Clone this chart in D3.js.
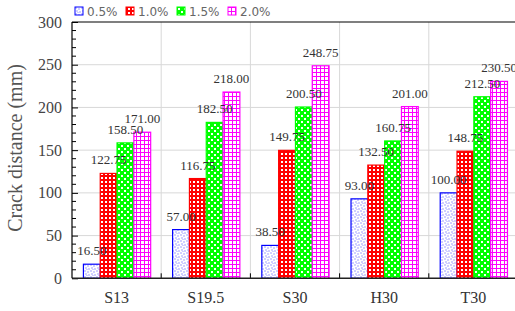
<!DOCTYPE html>
<html><head><meta charset="utf-8">
<script src="https://cdn.jsdelivr.net/npm/d3@7"></script>
<style>body{margin:0;background:#fff}svg{display:block}</style>
</head><body>
<svg id="c" width="515" height="311"></svg>
<script>
const categories = ["S13","S19.5","S30","H30","T30"];
const seriesNames = ["0.5%","1.0%","1.5%","2.0%"];
const s05 = [16.5, 57.0, 38.5, 93.0, 100.0];
const s10 = [122.75, 116.75, 149.75, 132.5, 148.75];
const s15 = [158.5, 182.5, 200.5, 160.75, 212.5];
const s20 = [171.0, 218.0, 248.75, 201.0, 230.5];
const yTicks = [0,50,100,150,200,250,300];
const seriesValues = [s05, s10, s15, s20];
const colors = ["#0000ff","#ff0000","#00ff00","#ff00ff"];

const svg = d3.select("#c");
const L = 72, T = 22, B = 278.3, R = 518;
const x = d3.scaleBand().domain(categories).range([L, R]).padding(0);
const bw = x.bandwidth();
const xs = d3.scaleBand().domain(seriesNames).range([bw*0.128, bw*0.882]).padding(0);
const y = d3.scaleLinear().domain([0,300]).range([B, T]);

// patterns
const defs = svg.append("defs");
let p = defs.append("pattern").attr("id","p0").attr("patternUnits","userSpaceOnUse").attr("width",6).attr("height",6);
p.append("rect").attr("width",6).attr("height",6).attr("fill","#fff");
[[0.5,0.5],[3.5,1.5],[1.5,3.5],[4.5,4.5],[2.5,5.5]].forEach(d=>p.append("rect").attr("x",d[0]).attr("y",d[1]).attr("width",1).attr("height",1).attr("fill","#4040ff"));
p = defs.append("pattern").attr("id","p1").attr("patternUnits","userSpaceOnUse").attr("width",4).attr("height",4);
p.append("rect").attr("width",4).attr("height",4).attr("fill","#ff0000");
p.append("rect").attr("x",1).attr("y",1).attr("width",2).attr("height",2).attr("fill","#fff");
p = defs.append("pattern").attr("id","p2").attr("patternUnits","userSpaceOnUse").attr("width",6).attr("height",6);
p.append("rect").attr("width",6).attr("height",6).attr("fill","#00ff00");
p.append("rect").attr("x",1).attr("y",1).attr("width",2).attr("height",2).attr("fill","#fff");
p.append("rect").attr("x",4).attr("y",4).attr("width",2).attr("height",2).attr("fill","#fff");
p = defs.append("pattern").attr("id","p3").attr("patternUnits","userSpaceOnUse").attr("width",4).attr("height",4);
p.append("rect").attr("width",4).attr("height",4).attr("fill","#ff00ff");
p.append("rect").attr("x",1).attr("y",1).attr("width",3).attr("height",3).attr("fill","#fff");

// grid
const g = svg.append("g");
g.selectAll(".hg").data(yTicks.filter(t=>t>0 && t<300)).join("line")
  .attr("x1",L).attr("x2",R).attr("y1",d=>y(d)).attr("y2",d=>y(d))
  .attr("stroke","#d8d8d8").attr("stroke-width",1);
g.selectAll(".vg").data(categories.slice(1)).join("line")
  .attr("x1",d=>x(d)).attr("x2",d=>x(d)).attr("y1",T).attr("y2",B)
  .attr("stroke","#d8d8d8").attr("stroke-width",1);

// bars
seriesValues.forEach((vals,si)=>{
  svg.append("g").selectAll("rect").data(vals).join("rect")
    .attr("x",(d,i)=>x(categories[i])+xs(seriesNames[si]))
    .attr("y",d=>y(d))
    .attr("width",xs.bandwidth())
    .attr("height",d=>B-y(d))
    .attr("fill",`url(#p${si})`)
    .attr("stroke",colors[si]).attr("stroke-width",1.2);
});
// value labels
seriesValues.forEach((vals,si)=>{
  svg.append("g").selectAll("text").data(vals).join("text")
    .attr("x",(d,i)=>x(categories[i])+xs(seriesNames[si])+xs.bandwidth()/2)
    .attr("y",d=>y(d)-9)
    .attr("text-anchor","middle")
    .attr("font-family","Liberation Serif, serif").attr("font-size",13)
    .attr("fill","#333").text(d=>d.toFixed(2));
});

// axes
const ya = d3.axisLeft(y).tickValues(yTicks).tickSize(-6).tickPadding(10);
const yg = svg.append("g").attr("transform",`translate(${L},0)`).call(ya);
yg.select(".domain").remove();
yg.selectAll("text").attr("font-family","Liberation Serif, serif").attr("font-size",16).attr("fill","#444");
yg.selectAll("line").attr("stroke","#000");
const yminor = d3.range(0,301,10).filter(v=>v%50!==0);
svg.append("g").selectAll("line").data(yminor).join("line")
  .attr("x1",L).attr("x2",L+4).attr("y1",d=>y(d)).attr("y2",d=>y(d)).attr("stroke","#000");

const xa = d3.axisBottom(x).tickSize(0).tickPadding(13);
const xg = svg.append("g").attr("transform",`translate(0,${B})`).call(xa);
xg.select(".domain").remove();
xg.selectAll("text").attr("font-family","Liberation Serif, serif").attr("font-size",16).attr("fill","#333");
svg.append("g").selectAll("line").data(categories.slice(1)).join("line")
  .attr("x1",d=>x(d)).attr("x2",d=>x(d)).attr("y1",B).attr("y2",B-5).attr("stroke","#000");

svg.append("line").attr("x1",L).attr("x2",R).attr("y1",B).attr("y2",B).attr("stroke","#222").attr("stroke-width",1.5);
svg.append("line").attr("x1",L).attr("x2",L).attr("y1",T).attr("y2",B).attr("stroke","#000").attr("stroke-width",1.2);
svg.append("line").attr("x1",L).attr("x2",R).attr("y1",T).attr("y2",T).attr("stroke","#000").attr("stroke-width",1.2);

// y label
svg.append("text").attr("transform",`translate(22,148) rotate(-90)`)
  .attr("text-anchor","middle").attr("font-family","Liberation Serif, serif")
  .attr("font-size",20).attr("fill","#555").text("Crack distance (mm)");

// legend
const lg = svg.append("g").attr("transform","translate(75,7)");
seriesNames.forEach((n,i)=>{
  const gx = i*51;
  lg.append("rect").attr("x",gx).attr("y",0).attr("width",8).attr("height",8)
    .attr("fill",`url(#p${i})`).attr("stroke",colors[i]).attr("stroke-width",1);
  lg.append("text").attr("x",gx+12).attr("y",9).attr("font-family","DejaVu Sans, sans-serif")
    .attr("font-size",12).attr("fill","#666").text(n);
});
</script>
</body></html>
